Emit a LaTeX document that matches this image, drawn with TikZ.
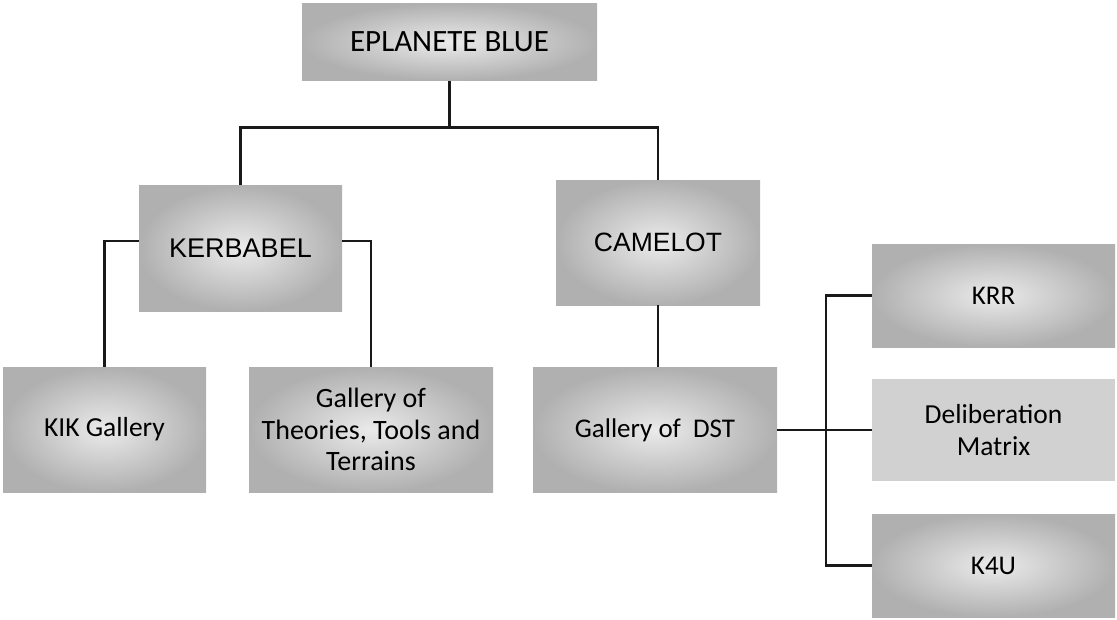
\documentclass[tikz,border=0pt]{standalone}
\usepackage{fontspec}
\setmainfont{Carlito}
\newfontfamily\arialfont{Liberation Sans}
\usetikzlibrary{positioning}
\tikzstyle{cell} = [rectangle, align=center, inner sep=0pt, font=\fontsize{27.5}{31.7}\selectfont, text=black]
\tikzstyle{gbox} = [cell, shading=radial, inner color=gray!16, outer color=gray!62]
\tikzstyle{flatbox} = [cell, fill=gray!36]
\tikzstyle{link} = [line width=2.6pt, black!90]

\begin{document}
\begin{tikzpicture}[x=1pt, y=-1pt]
    \useasboundingbox (0,0) rectangle (1117,619);
    % boxes
    \node[gbox, minimum width=295pt, minimum height=77pt, font=\fontsize{31}{36}\selectfont] (top) at (449.5,42) {EPLANETE BLUE};
    \node[gbox, minimum width=203pt, minimum height=126pt, font=\arialfont\fontsize{27}{32}\selectfont] (kerbabel) at (240.5,248) {KERBABEL};
    \node[gbox, minimum width=204pt, minimum height=125pt, font=\arialfont\fontsize{26.5}{30}\selectfont] (camelot) at (658,242.5) {CAMELOT};
    \node[gbox, minimum width=203pt, minimum height=125pt] (kik) at (104.5,429.5) {KIK Gallery};
    \node[gbox, minimum width=244pt, minimum height=125pt, font=\fontsize{28}{31.7}\selectfont] (theories) at (371,429.5) {Gallery of\\Theories, Tools and\\Terrains};
    \node[gbox, minimum width=244pt, minimum height=125pt, font=\fontsize{27}{30}\selectfont] (dst) at (655,430) {Gallery of\hspace{0.45em}DST};
    \node[gbox, minimum width=243pt, minimum height=103pt, font=\fontsize{27}{30}\selectfont] (krr) at (993.5,295.5) {KRR};
    \node[flatbox, minimum width=243pt, minimum height=102pt] (delib) at (993.5,430) {Deliberation\\Matrix};
    \node[gbox, minimum width=243pt, minimum height=103pt, font=\fontsize{27}{30}\selectfont] (k4u) at (993.5,565.5) {K4U};
    % connectors
    \draw[link] (top.south) -- ++(0,47) coordinate (j1);
    \draw[link] (kerbabel.north) |- (j1) -| (camelot.north);
    \draw[link] ([yshift=7pt]kerbabel.west) -| (kik.north);
    \draw[link] ([yshift=7pt]kerbabel.east) -| (theories.north);
    \draw[link] (camelot.south) -- (camelot.south |- dst.north);
    \draw[link] (dst.east) -- (delib.west);
    \draw[link] (krr.west) -- ++(-46,0) |- (k4u.west);
\end{tikzpicture}
\end{document}
